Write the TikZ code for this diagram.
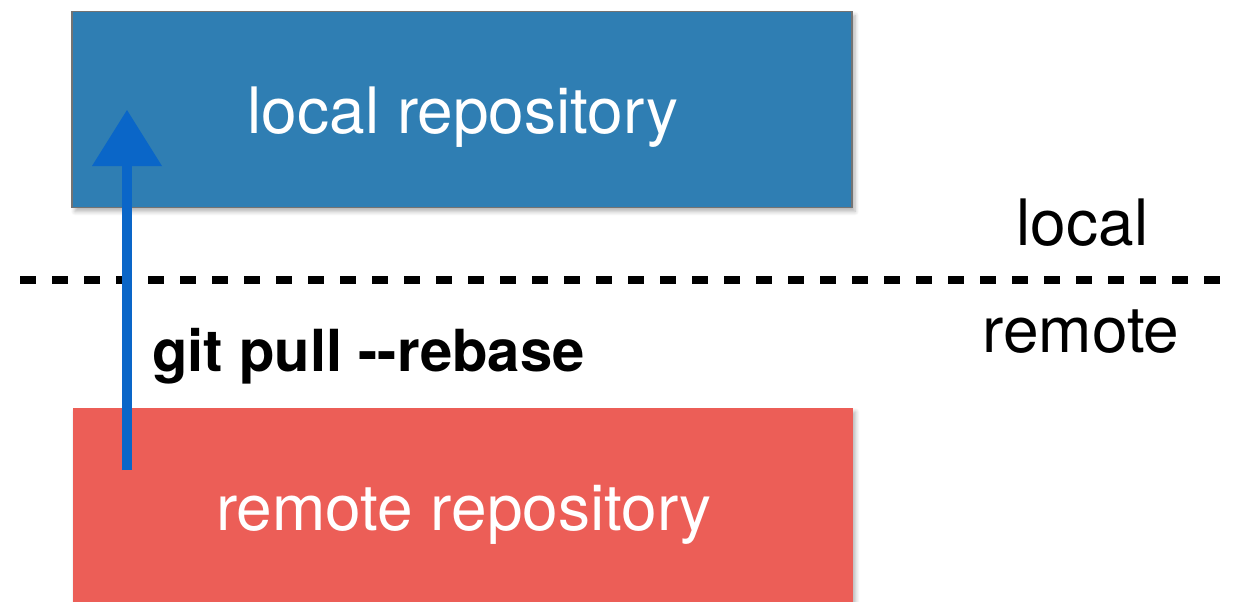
\documentclass[tikz,border=0pt]{standalone}
\usepackage{fontspec}
\setmainfont{TeX Gyre Heros}
\usetikzlibrary{shadows.blur}

\definecolor{localblue}{HTML}{2F7EB3}
\definecolor{remotered}{HTML}{EC5E57}
\definecolor{pullblue}{HTML}{0A66C8}

\tikzset{
  repobox/.style={draw=none, minimum width=390pt, inner sep=0pt,
    blur shadow={shadow xshift=1.5pt, shadow yshift=-2pt, shadow blur steps=6, shadow opacity=30}},
  boxtext/.style={anchor=base, text=white, font=\fontsize{32}{38}\selectfont, inner sep=0pt},
  sidetext/.style={anchor=base, text=black, font=\fontsize{32}{38}\selectfont, inner sep=0pt},
  cmdtext/.style={anchor=base west, text=black, font=\fontsize{29}{34}\selectfont\bfseries, inner sep=0pt},
  divider/.style={line width=4pt, dash pattern=on 8pt off 8pt},
  pullarrow/.style={line width=5pt, draw=pullblue},
}

\begin{document}
\begin{tikzpicture}[x=0.5pt, y=-0.5pt]
  \useasboundingbox (0,0) rectangle (1238,601);

  % repositories
  \node[repobox, fill=localblue, draw=black!55, line width=0.6pt, minimum height=98pt]
    (localrepo) at (462,109.5) {};
  \node[repobox, fill=remotered, minimum height=100pt] (remoterepo) at (462.5,508) {};

  \node[boxtext] (localtxt) at (463,133) {local repository};
  \node[boxtext] (remotetxt) at (464,530) {remote repository};

  % boundary between local and remote
  \coordinate (divL) at (20,280);
  \coordinate (divR) at (1222,280);
  \draw[divider] (divL) -- (divR);

  \node[sidetext] (sidelocal) at (1082.5,245) {local};
  \node[sidetext] (sideremote) at (1081,352) {remote};

  % pull arrow
  \coordinate (tail) at (127,470);
  \coordinate (neck) at (127,163);
  \coordinate (tip) at (127,110);
  \draw[pullarrow] (tail) -- (neck);
  \fill[pullblue] (92,166) -- (tip) -- (162,166) -- cycle;

  \node[cmdtext] (cmd) at (152,371) {git pull -{}-rebase};
\end{tikzpicture}
\end{document}
